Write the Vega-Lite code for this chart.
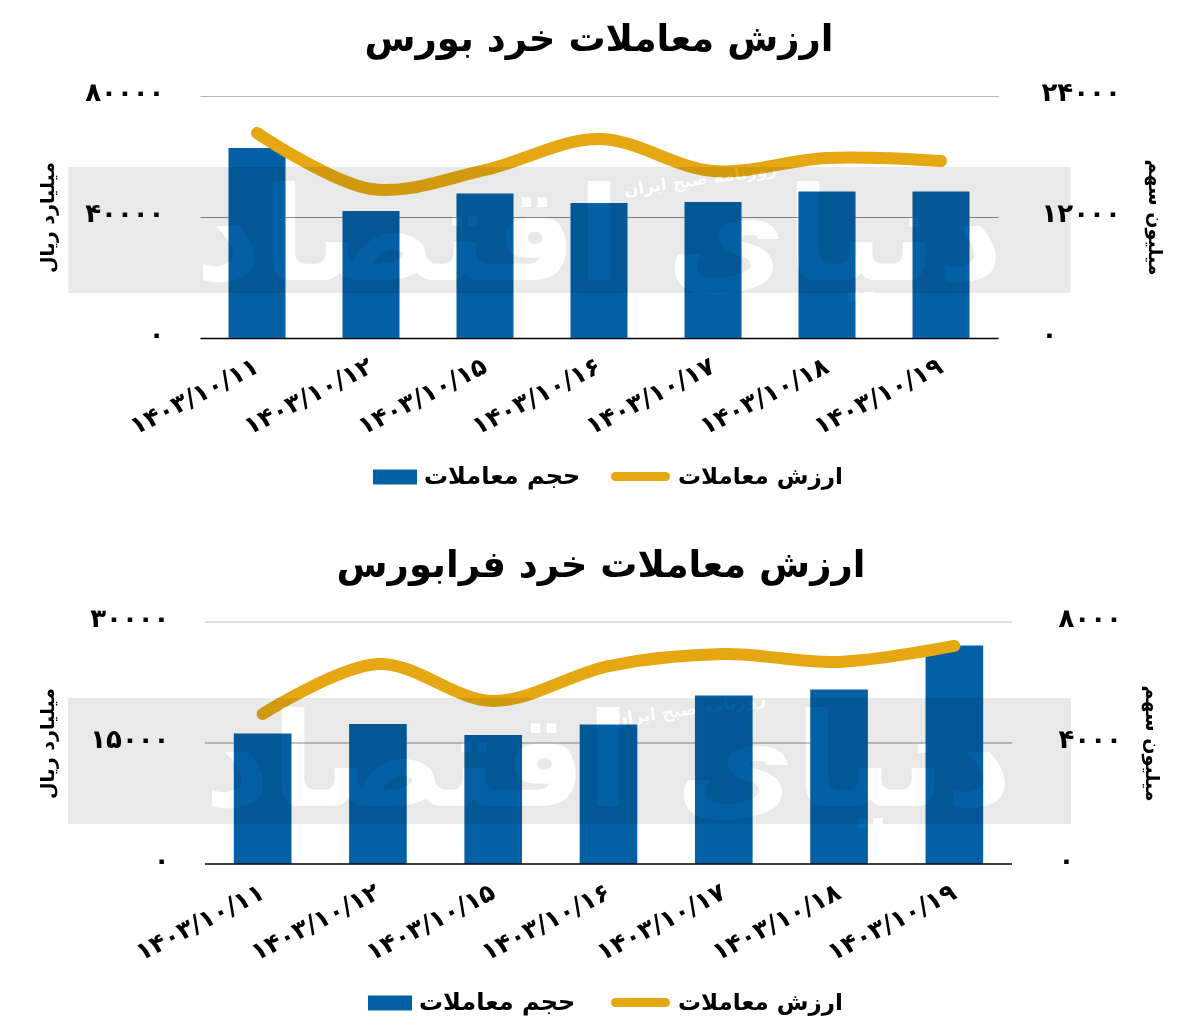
{"$schema":"https://vega.github.io/schema/vega-lite/v6.json","padding":{"left":38,"top":21,"right":20,"bottom":0},"background":"white","spacing":52,"resolve":{"scale":{"color":"independent","stroke":"independent"},"legend":{"color":"independent","stroke":"independent"}},"config":{"view":{"stroke":null},"font":"DejaVu Sans"},"datasets":{"d1":[{"date":"۱۴۰۳/۱۰/۱۱","hajm":62810,"arzesh":20330},{"date":"۱۴۰۳/۱۰/۱۲","hajm":41980,"arzesh":14780},{"date":"۱۴۰۳/۱۰/۱۵","hajm":47770,"arzesh":16660},{"date":"۱۴۰۳/۱۰/۱۶","hajm":44630,"arzesh":19740},{"date":"۱۴۰۳/۱۰/۱۷","hajm":44960,"arzesh":16560},{"date":"۱۴۰۳/۱۰/۱۸","hajm":48430,"arzesh":17850},{"date":"۱۴۰۳/۱۰/۱۹","hajm":48430,"arzesh":17550}],"d2":[{"date":"۱۴۰۳/۱۰/۱۱","hajm":16180,"arzesh":4960},{"date":"۱۴۰۳/۱۰/۱۲","hajm":17355,"arzesh":6610},{"date":"۱۴۰۳/۱۰/۱۵","hajm":15990,"arzesh":5390},{"date":"۱۴۰۳/۱۰/۱۶","hajm":17290,"arzesh":6545},{"date":"۱۴۰۳/۱۰/۱۷","hajm":20890,"arzesh":6940},{"date":"۱۴۰۳/۱۰/۱۸","hajm":21630,"arzesh":6680},{"date":"۱۴۰۳/۱۰/۱۹","hajm":27090,"arzesh":7210}]},"vconcat":[{"width":798,"height":242,"title":{"text":"ارزش معاملات خرد بورس","fontSize":37,"fontWeight":"bold","color":"black","offset":20,"anchor":"middle"},"resolve":{"scale":{"x":"independent","y":"independent"},"axis":{"x":"independent","y":"independent"}},"layer":[{"data":{"name":"d1"},"mark":{"type":"bar","color":"#0460a4"},"encoding":{"x":{"field":"date","type":"nominal","sort":null,"scale":{"paddingInner":0.5,"paddingOuter":0.25},"axis":{"title":null,"labelAngle":-27,"labelAlign":"right","labelBaseline":"middle","labelFontSize":25,"labelFontWeight":"bold","labelColor":"black","labelPadding":26,"ticks":false,"domainColor":"black","domainWidth":1.5}},"y":{"field":"hajm","type":"quantitative","scale":{"domain":[0,80000]},"axis":{"values":[0,40000,80000],"title":"میلیارد ریال","titleFontSize":19,"titleFontWeight":"bold","titleColor":"black","titlePadding":27,"labelFontSize":26,"labelFontWeight":"bold","labelColor":"black","labelPadding":36,"labelOffset":-4,"ticks":false,"domain":false,"grid":true,"gridColor":{"condition":{"test":"datum.value===40000","value":"#8a8a8a"},"value":"#bbbbbb"},"labelExpr":"datum.value===0?'۰':datum.value===40000?'۴۰۰۰۰':'۸۰۰۰۰'"}},"color":{"datum":"حجم معاملات","scale":{"range":["#0460a4"]},"legend":{"title":null,"orient":"none","legendX":172,"legendY":358,"symbolType":"M-1,-0.34H1V0.34H-1Z","symbolSize":1936,"symbolOpacity":1,"labelFontSize":24,"labelFontWeight":"bold","labelColor":"black","labelOffset":6,"labelLimit":400}}}},{"data":{"name":"d1"},"mark":{"type":"line","interpolate":"catmull-rom","strokeWidth":12,"strokeCap":"round","strokeJoin":"round","color":"#e5a812"},"encoding":{"x":{"field":"date","type":"nominal","sort":null,"scale":{"paddingInner":0.5,"paddingOuter":0.25},"axis":null},"y":{"field":"arzesh","type":"quantitative","scale":{"domain":[0,24000]},"axis":{"orient":"right","values":[0,12000,24000],"title":"میلیون سهم","titleFontSize":19,"titleFontWeight":"bold","titleColor":"black","titlePadding":24,"labelFontSize":26,"labelFontWeight":"bold","labelColor":"black","labelPadding":43,"labelOffset":-4,"ticks":false,"domain":false,"grid":false,"labelExpr":"datum.value===0?'۰':datum.value===12000?'۱۲۰۰۰':'۲۴۰۰۰'"}},"stroke":{"datum":"ارزش معاملات","scale":{"range":["#e5a812"]},"legend":{"title":null,"orient":"none","legendX":411,"legendY":351,"symbolType":"stroke","symbolSize":2500,"symbolStrokeWidth":9,"labelFontSize":23,"labelFontWeight":"bold","labelColor":"black","labelOffset":8,"labelLimit":400,"encode":{"symbols":{"update":{"strokeCap":{"value":"round"}}}}}}}},{"data":{"values":[{"a":-0.165,"b":1.091,"lo":14900,"hi":56500}]},"mark":{"type":"rect","color":"black","opacity":0.085,"clip":false},"encoding":{"x":{"field":"a","type":"quantitative","scale":{"domain":[0,1]},"axis":null},"x2":{"field":"b"},"y":{"field":"lo","type":"quantitative","scale":{"domain":[0,80000]},"axis":null},"y2":{"field":"hi"}}},{"data":{"values":[{"p":0.5,"v":32000,"t":"دنیای اقتصاد"}]},"mark":{"type":"text","fontSize":130,"fontWeight":"bold","color":"#171717","blend":"color-dodge"},"encoding":{"x":{"field":"p","type":"quantitative","scale":{"domain":[0,1]},"axis":null},"y":{"field":"v","type":"quantitative","scale":{"domain":[0,80000]},"axis":null},"text":{"field":"t"}}},{"data":{"values":[{"p":0.627,"v":52200,"t":"روزنامه صبح ایران"}]},"mark":{"type":"text","fontSize":17,"fontWeight":"bold","angle":-8,"color":"#171717","blend":"color-dodge"},"encoding":{"x":{"field":"p","type":"quantitative","scale":{"domain":[0,1]},"axis":null},"y":{"field":"v","type":"quantitative","scale":{"domain":[0,80000]},"axis":null},"text":{"field":"t"}}}]},{"width":812,"height":242,"title":{"text":"ارزش معاملات خرد فرابورس","fontSize":37,"fontWeight":"bold","color":"black","offset":20,"anchor":"middle","dx":-5},"resolve":{"scale":{"x":"independent","y":"independent"},"axis":{"x":"independent","y":"independent"}},"layer":[{"data":{"values":[{"a":0.00616,"b":1,"g":15000},{"a":0.00616,"b":1,"g":30000}]},"mark":{"type":"rule","strokeWidth":1},"encoding":{"x":{"field":"a","type":"quantitative","scale":{"domain":[0,1]},"axis":null},"x2":{"field":"b"},"y":{"field":"g","type":"quantitative","scale":{"domain":[0,30000]},"axis":null},"color":{"condition":{"test":"datum.g===15000","value":"#8a8a8a"},"value":"#bbbbbb"}}},{"data":{"name":"d2"},"mark":{"type":"bar","color":"#0460a4"},"encoding":{"x":{"field":"date","type":"nominal","sort":null,"scale":{"range":[5,812],"paddingInner":0.5,"paddingOuter":0.25},"axis":{"title":null,"labelAngle":-27,"labelAlign":"right","labelBaseline":"middle","labelFontSize":25,"labelFontWeight":"bold","labelColor":"black","labelPadding":26,"ticks":false,"domain":false}},"y":{"field":"hajm","type":"quantitative","scale":{"domain":[0,30000]},"axis":{"values":[0,15000,30000],"title":"میلیارد ریال","titleFontSize":19,"titleFontWeight":"bold","titleColor":"black","titlePadding":32,"labelFontSize":26,"labelFontWeight":"bold","labelColor":"black","labelPadding":31,"labelOffset":-4,"ticks":false,"domain":false,"grid":false,"labelExpr":"datum.value===0?'۰':datum.value===15000?'۱۵۰۰۰':'۳۰۰۰۰'"}},"color":{"datum":"حجم معاملات","scale":{"range":["#0460a4"]},"legend":{"title":null,"orient":"none","legendX":167,"legendY":358,"symbolType":"M-1,-0.34H1V0.34H-1Z","symbolSize":1936,"symbolOpacity":1,"labelFontSize":24,"labelFontWeight":"bold","labelColor":"black","labelOffset":6,"labelLimit":400}}}},{"data":{"values":[{"a":0.00616,"b":1,"g":0}]},"mark":{"type":"rule","strokeWidth":1.5,"color":"black"},"encoding":{"x":{"field":"a","type":"quantitative","scale":{"domain":[0,1]},"axis":null},"x2":{"field":"b"},"y":{"field":"g","type":"quantitative","scale":{"domain":[0,30000]},"axis":null}}},{"data":{"name":"d2"},"mark":{"type":"line","interpolate":"catmull-rom","strokeWidth":12,"strokeCap":"round","strokeJoin":"round","color":"#e5a812"},"encoding":{"x":{"field":"date","type":"nominal","sort":null,"scale":{"range":[5,812],"paddingInner":0.5,"paddingOuter":0.25},"axis":null},"y":{"field":"arzesh","type":"quantitative","scale":{"domain":[0,8000]},"axis":{"orient":"right","values":[0,4000,8000],"title":"میلیون سهم","titleFontSize":19,"titleFontWeight":"bold","titleColor":"black","titlePadding":20,"labelFontSize":26,"labelFontWeight":"bold","labelColor":"black","labelPadding":46,"labelOffset":-4,"ticks":false,"domain":false,"grid":false,"labelExpr":"datum.value===0?'۰':datum.value===4000?'۴۰۰۰':'۸۰۰۰'"}},"stroke":{"datum":"ارزش معاملات","scale":{"range":["#e5a812"]},"legend":{"title":null,"orient":"none","legendX":411,"legendY":351,"symbolType":"stroke","symbolSize":2500,"symbolStrokeWidth":9,"labelFontSize":23,"labelFontWeight":"bold","labelColor":"black","labelOffset":8,"labelLimit":400,"encode":{"symbols":{"update":{"strokeCap":{"value":"round"}}}}}}}},{"data":{"values":[{"a":-0.1626,"b":1.0727,"lo":4950,"hi":20580}]},"mark":{"type":"rect","color":"black","opacity":0.085,"clip":false},"encoding":{"x":{"field":"a","type":"quantitative","scale":{"domain":[0,1]},"axis":null},"x2":{"field":"b"},"y":{"field":"lo","type":"quantitative","scale":{"domain":[0,30000]},"axis":null},"y2":{"field":"hi"}}},{"data":{"values":[{"p":0.5025,"v":12000,"t":"دنیای اقتصاد"}]},"mark":{"type":"text","fontSize":130,"fontWeight":"bold","color":"#171717","blend":"color-dodge"},"encoding":{"x":{"field":"p","type":"quantitative","scale":{"domain":[0,1]},"axis":null},"y":{"field":"v","type":"quantitative","scale":{"domain":[0,30000]},"axis":null},"text":{"field":"t"}}},{"data":{"values":[{"p":0.603,"v":19090,"t":"روزنامه صبح ایران"}]},"mark":{"type":"text","fontSize":17,"fontWeight":"bold","angle":-8,"color":"#171717","blend":"color-dodge"},"encoding":{"x":{"field":"p","type":"quantitative","scale":{"domain":[0,1]},"axis":null},"y":{"field":"v","type":"quantitative","scale":{"domain":[0,30000]},"axis":null},"text":{"field":"t"}}}]}]}
